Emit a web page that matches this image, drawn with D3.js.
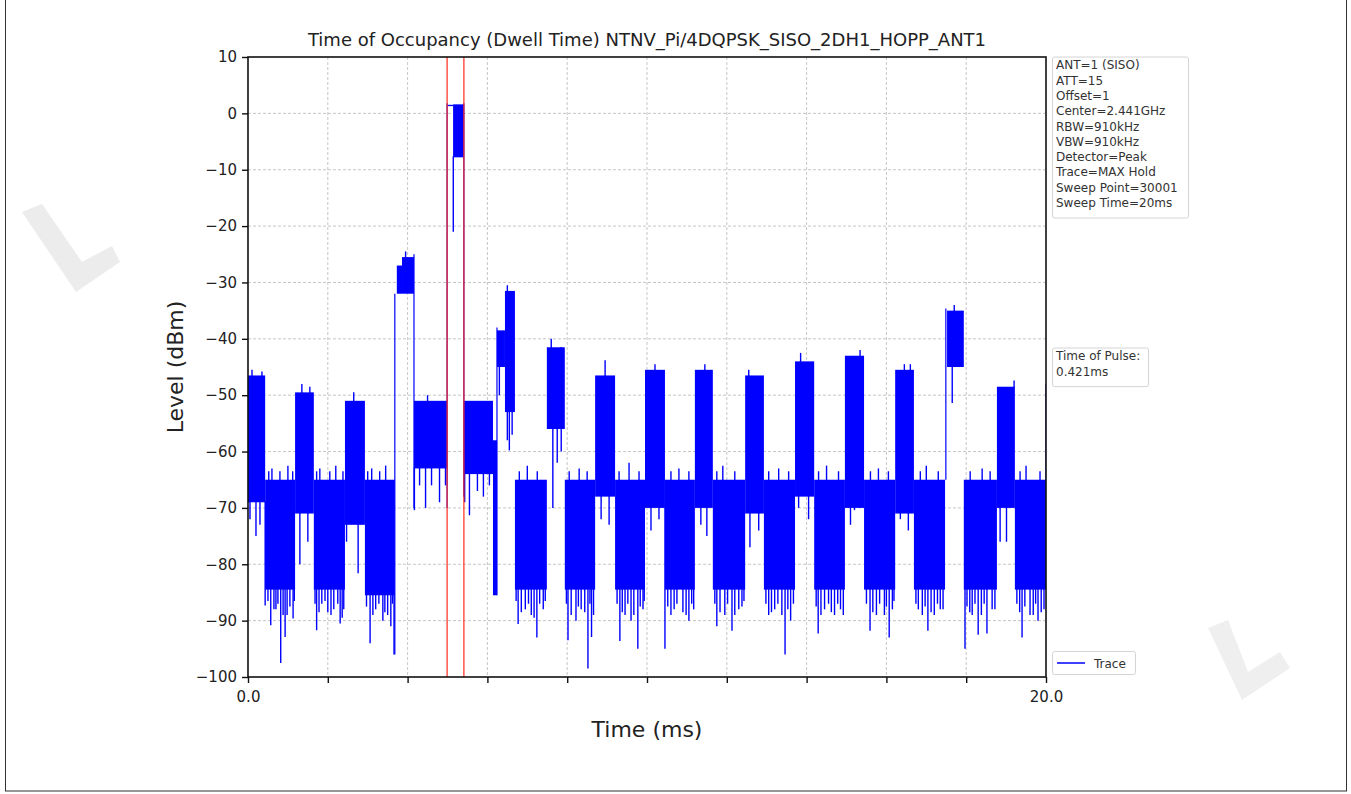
<!DOCTYPE html>
<html>
<head>
<meta charset="utf-8">
<script src="https://cdn.jsdelivr.net/npm/d3@7"></script>
<style>
  body { margin: 0; background: #fff; }
  text { font-family: "DejaVu Sans", sans-serif; }
</style>
</head>
<body>
<svg id="chart" width="1351" height="794"></svg>
<script>
// trace blocks (ms, dBm): dense max-hold noise envelope
const blockStart  = [0.00, 0.43, 1.18, 1.65, 2.43, 2.93, 3.73, 3.86, 4.16, 5.14, 5.41, 6.14, 6.24, 6.44, 6.69, 7.49, 7.94, 8.70, 9.20, 9.95, 10.45, 11.20, 11.65, 12.46, 12.93, 13.71, 14.19, 14.96, 15.44, 16.22, 16.69, 17.52, 17.94, 18.77, 19.22];
const blockEnd    = [0.43, 1.18, 1.65, 2.43, 2.93, 3.68, 3.86, 4.16, 4.99, 5.41, 6.14, 6.24, 6.44, 6.69, 7.49, 7.94, 8.70, 9.20, 9.95, 10.45, 11.20, 11.65, 12.46, 12.93, 13.71, 14.19, 14.96, 15.44, 16.22, 16.69, 17.47, 17.94, 18.77, 19.22, 20.00];
const blockTop    = [-46.5, -65, -49.5, -65, -51, -65, -27, -25.5, -51, 1.6, -51, -58, -38.5, -31.5, -65, -41.5, -65, -46.5, -65, -45.5, -65, -45.5, -65, -46.5, -65, -44, -65, -43, -65, -45.5, -65, -35, -65, -48.5, -65];
const blockBottom = [-69, -84.5, -71, -84.5, -73, -85.5, -32, -32, -63, -7.8, -64, -85.5, -45, -53, -84.5, -56, -84.5, -68, -84.5, -70, -84.5, -70, -84.5, -71, -84.5, -68, -84.5, -70, -84.5, -71, -84.5, -45, -84.5, -70, -84.5];

// downward spikes below the dense part (time ms, level dBm)
const spikeTime  = [0.05, 0.20, 0.30, 0.43, 0.50, 0.57, 0.65, 0.70, 0.75, 0.82, 0.88, 0.93, 0.98, 1.05, 1.13, 1.16, 1.30, 1.50,
                    1.68, 1.72, 1.78, 1.85, 1.93, 2.00, 2.08, 2.15, 2.25, 2.31, 2.36, 2.40, 2.47, 2.76,
                    2.97, 3.06, 3.13, 3.20, 3.28, 3.38, 3.43, 3.50, 3.58, 3.62, 3.66,
                    4.17, 4.30, 4.45, 4.60, 4.80, 4.95, 5.145, 5.43, 5.55, 5.75, 5.90, 6.05, 6.30, 6.50, 6.55, 6.62,
                    6.72, 6.77, 6.85, 6.95, 7.03, 7.10, 7.17, 7.24, 7.31, 7.40, 7.45, 7.64, 7.75, 7.85,
                    7.98, 8.02, 8.10, 8.22, 8.28, 8.35, 8.44, 8.52, 8.57, 8.61, 8.66, 8.85, 9.05,
                    9.25, 9.32, 9.38, 9.45, 9.52, 9.60, 9.67, 9.77, 9.83, 9.90, 9.93, 10.10, 10.30,
                    10.45, 10.52, 10.60, 10.68, 10.75, 10.90, 10.98, 11.05, 11.12, 11.17, 11.35, 11.50,
                    11.70, 11.75, 11.83, 11.95, 12.02, 12.13, 12.20, 12.30, 12.38, 12.43, 12.58, 12.80,
                    12.98, 13.05, 13.12, 13.20, 13.28, 13.38, 13.46, 13.53, 13.60, 13.67, 13.80, 14.05,
                    14.24, 14.29, 14.36, 14.45, 14.55, 14.62, 14.70, 14.78, 14.85, 14.92, 15.10, 15.20,
                    15.50, 15.59, 15.66, 15.75, 15.83, 15.95, 16.00, 16.07, 16.15, 16.19, 16.35, 16.55,
                    16.74, 16.80, 16.90, 16.97, 17.04, 17.12, 17.20, 17.28, 17.35, 17.42, 17.65,
                    17.97, 18.02, 18.09, 18.15, 18.22, 18.30, 18.38, 18.45, 18.52, 18.65, 18.72, 18.85, 19.01,
                    19.27, 19.34, 19.40, 19.47, 19.60, 19.68, 19.74, 19.80, 19.88, 19.95];
const spikeLevel = [-72, -75, -73, -87.3, -86.5, -90.8, -88, -88, -87, -97.5, -89, -92.9, -89, -87.5, -89.6, -86.5, -80, -76,
                    -87, -91.7, -88.5, -87, -86.5, -88.5, -89, -88, -87, -90.5, -89.5, -88, -76, -81.6,
                    -87.5, -94, -89, -88, -87, -90, -88.5, -89, -91, -87, -96,
                    -70.4, -66, -70, -66, -69, -66, -21, -69, -71.3, -67, -68, -66, -50, -58, -59.8, -57,
                    -86.5, -90.6, -88.5, -88, -87, -89, -89.5, -93, -87, -88, -86.5, -70, -62, -60,
                    -87, -93.5, -89, -90, -87.5, -88, -88.5, -98.5, -87, -92.9, -89, -72, -73,
                    -87, -93.6, -88.5, -89, -87, -90, -89, -95, -87.5, -88, -86.5, -74, -72,
                    -95, -87.5, -89, -88, -87, -88.5, -89, -90, -87, -88, -73, -75,
                    -87, -91, -88.5, -89, -87, -91.8, -89, -88, -87.5, -86.5, -77, -74,
                    -87, -89, -88.5, -88, -87, -89, -96, -88, -90, -87, -70, -72,
                    -87.5, -92.3, -89, -88, -87, -88.5, -89, -87, -88, -89, -73, -70.4,
                    -87, -91.8, -88.5, -89, -87, -89, -87.5, -93, -88, -86.5, -72, -74,
                    -87, -88, -89, -87.5, -91.8, -88.5, -89, -87, -88, -88, -51.4,
                    -95, -87.5, -88.5, -89, -87, -92.5, -89, -87, -92.3, -88, -88, -76, -76,
                    -87, -88.5, -93, -87.5, -89, -89, -87, -90, -88.5, -88];

// upward peaks above the dense part (time ms, level dBm)
const peakTime  = [0.10, 0.35, 0.52, 0.60, 0.80, 1.00, 1.12, 1.35, 1.55, 1.72, 1.80, 2.05, 2.20, 2.38, 2.65, 3.00, 3.10, 3.30, 3.45, 3.95, 4.50,
                   6.50, 6.80, 7.00, 7.25, 7.60, 7.85, 8.05, 8.30, 8.50, 8.95, 9.30, 9.55, 9.80, 10.20, 10.60, 10.80, 11.05, 11.45,
                   11.75, 11.90, 12.20, 12.55, 13.05, 13.30, 13.55, 13.85, 14.30, 14.50, 14.80, 15.34, 15.60, 15.80, 16.05, 16.45, 16.60,
                   16.85, 17.00, 17.30, 17.70, 18.10, 18.40, 18.60, 19.20, 19.35, 19.50, 19.85];
const peakLevel = [-45.5, -45.8, -63.5, -63, -63.5, -62.5, -63.5, -48, -48.5, -63.5, -63, -63.5, -62.5, -63.5, -49.5, -63.5, -63, -63.5, -62.5, -24.5, -50,
                   -30.5, -63.5, -62.5, -63.5, -40, -41.5, -63.5, -63, -63.5, -43.8, -63.5, -62, -63.5, -44.5, -63.5, -63, -63.5, -44.5,
                   -63.5, -62.5, -63.5, -45.5, -63.5, -63, -63.5, -42.5, -63.5, -62.5, -63.5, -42, -63.5, -63, -63.5, -44.5, -44.5,
                   -63.5, -62.5, -63.5, -34, -63.5, -63, -63.5, -47.4, -63.5, -62.5, -63.5];

// thin transitions of the trace between blocks (time ms, from, to dBm)
const linkTime = [3.68, 4.16, 4.99, 5.41, 6.24, 17.49, 20.00];
const linkFrom = [-96, -70, -70, -68, -85.5, -65, -65];
const linkTo   = [-32, -25, 1.8, 1.8, -38, -34.6, -48];

// flat top of the pulse before it starts toggling
const flatTime  = [4.99, 5.14];
const flatLevel = [1.4, 1.4];

// dwell time markers
const markerTime = [4.99, 5.411];

const xTicks = d3.range(0, 21, 2);
const yTicks = d3.range(-100, 11, 10);

const infoLines = ["ANT=1 (SISO)", "ATT=15", "Offset=1", "Center=2.441GHz", "RBW=910kHz", "VBW=910kHz",
  "Detector=Peak", "Trace=MAX Hold", "Sweep Point=30001", "Sweep Time=20ms"];
const pulseLines = ["Time of Pulse:", "0.421ms"];

var svg = d3.select("#chart");
var margin = { left: 248, right: 1046, top: 57, bottom: 677 };

svg.append("rect").attr("width", 1351).attr("height", 794).attr("fill", "#fff");

// faint scan watermark marks at the page edges
svg.append("path")
  .attr("d", "M22,212 L42,204 L82,262 L112,246 L120,262 L76,292 Z")
  .attr("fill", "#ececec");
svg.append("path")
  .attr("d", "M1208,628 L1228,620 L1248,672 L1280,652 L1290,668 L1242,700 Z")
  .attr("fill", "#efefef");

// page frame
svg.append("rect").attr("x", 5.5).attr("y", -2).attr("width", 1341).attr("height", 793)
  .attr("fill", "none").attr("stroke", "#333").attr("stroke-width", 1);

var x = d3.scaleLinear().domain([0, 20]).range([margin.left, margin.right]);
var y = d3.scaleLinear().domain([-100, 10]).range([margin.bottom, margin.top]);

var blue = "#0000ff";

// grid
var grid = svg.append("g");
grid.selectAll(".gx").data(xTicks.slice(1, -1)).enter().append("line")
  .attr("x1", d => x(d)).attr("x2", d => x(d))
  .attr("y1", margin.top).attr("y2", margin.bottom)
  .attr("stroke", "#b8b8b8").attr("stroke-width", 0.8).attr("stroke-dasharray", "3,2");
grid.selectAll(".gy").data(yTicks.slice(1, -1)).enter().append("line")
  .attr("x1", margin.left).attr("x2", margin.right)
  .attr("y1", d => y(d)).attr("y2", d => y(d))
  .attr("stroke", "#b8b8b8").attr("stroke-width", 0.8).attr("stroke-dasharray", "3,2");

// clip to the axes
svg.append("clipPath").attr("id", "clip").append("rect")
  .attr("x", margin.left).attr("y", margin.top)
  .attr("width", margin.right - margin.left).attr("height", margin.bottom - margin.top);

var plot = svg.append("g").attr("clip-path", "url(#clip)");

var blocks = blockStart.map((s, i) => ({ s: s, e: blockEnd[i], top: blockTop[i], bot: blockBottom[i] }));

function blockAt(t) {
  var b = blocks.find(b => t >= b.s && t <= b.e);
  return b || { top: -65, bot: -85 };
}

plot.selectAll(".blk").data(blocks).enter().append("rect")
  .attr("x", d => x(d.s))
  .attr("width", d => x(d.e) - x(d.s))
  .attr("y", d => y(d.top))
  .attr("height", d => y(d.bot) - y(d.top))
  .attr("fill", blue);

var spikes = spikeTime.map((t, i) => ({ t: t, v: spikeLevel[i] }));
plot.selectAll(".spk").data(spikes).enter().append("line")
  .attr("x1", d => x(d.t)).attr("x2", d => x(d.t))
  .attr("y1", d => y(blockAt(d.t).bot) - 1).attr("y2", d => y(d.v))
  .attr("stroke", blue).attr("stroke-width", 1.4);

var peaks = peakTime.map((t, i) => ({ t: t, v: peakLevel[i] }));
plot.selectAll(".pk").data(peaks).enter().append("line")
  .attr("x1", d => x(d.t)).attr("x2", d => x(d.t))
  .attr("y1", d => y(blockAt(d.t).top) + 1).attr("y2", d => y(d.v))
  .attr("stroke", blue).attr("stroke-width", 1.4);

var links = linkTime.map((t, i) => ({ t: t, a: linkFrom[i], b: linkTo[i] }));
plot.selectAll(".lnk").data(links).enter().append("line")
  .attr("x1", d => x(d.t)).attr("x2", d => x(d.t))
  .attr("y1", d => y(d.a)).attr("y2", d => y(d.b))
  .attr("stroke", blue).attr("stroke-width", 1.2);

plot.append("path")
  .datum(flatTime.map((t, i) => [t, flatLevel[i]]))
  .attr("d", d3.line().x(d => x(d[0])).y(d => y(d[1])))
  .attr("fill", "none").attr("stroke", blue).attr("stroke-width", 1.3);

// markers
svg.selectAll(".mk").data(markerTime).enter().append("line")
  .attr("x1", d => x(d)).attr("x2", d => x(d))
  .attr("y1", margin.top).attr("y2", margin.bottom)
  .attr("stroke", "#ff2a1a").attr("stroke-width", 1.2);

// spines
svg.append("rect")
  .attr("x", margin.left).attr("y", margin.top)
  .attr("width", margin.right - margin.left).attr("height", margin.bottom - margin.top)
  .attr("fill", "none").attr("stroke", "#111").attr("stroke-width", 1.6);

// axes
var xAxis = svg.append("g")
  .attr("transform", "translate(0," + margin.bottom + ")")
  .call(d3.axisBottom(x).tickValues(xTicks).tickSize(6).tickPadding(8)
    .tickFormat(d => (d === 0 || d === 20) ? d.toFixed(1) : ""));
var yAxis = svg.append("g")
  .attr("transform", "translate(" + margin.left + ",0)")
  .call(d3.axisLeft(y).tickValues(yTicks).tickSize(6).tickPadding(5));

[xAxis, yAxis].forEach(function (a) {
  a.select(".domain").remove();
  a.selectAll(".tick line").attr("stroke", "#111").attr("stroke-width", 1.4);
  a.selectAll(".tick text").attr("font-family", "DejaVu Sans").attr("font-size", 15).attr("fill", "#222");
});

// titles
svg.append("text")
  .attr("x", (margin.left + margin.right) / 2).attr("y", 46)
  .attr("text-anchor", "middle").attr("font-size", 18).attr("fill", "#222")
  .text("Time of Occupancy (Dwell Time) NTNV_Pi/4DQPSK_SISO_2DH1_HOPP_ANT1");

svg.append("text")
  .attr("x", (margin.left + margin.right) / 2).attr("y", 737)
  .attr("text-anchor", "middle").attr("font-size", 22).attr("fill", "#222")
  .text("Time (ms)");

svg.append("text")
  .attr("transform", "translate(183," + (margin.top + margin.bottom) / 2 + ") rotate(-90)")
  .attr("text-anchor", "middle").attr("font-size", 22).attr("fill", "#222")
  .text("Level (dBm)");

// info boxes on the right
function infoBox(lines, top, w) {
  var g = svg.append("g");
  g.append("rect")
    .attr("x", 1052.5).attr("y", top)
    .attr("width", w).attr("height", lines.length * 15.3 + 8)
    .attr("fill", "#fff").attr("stroke", "#d4d4d4").attr("rx", 2);
  g.selectAll("text").data(lines).enter().append("text")
    .attr("x", 1056).attr("y", (d, i) => top + 12.3 + i * 15.3)
    .attr("font-size", 12).attr("fill", "#333")
    .text(d => d);
}
infoBox(infoLines, 57, 136);
infoBox(pulseLines, 348, 96);

// legend
var leg = svg.append("g");
leg.append("rect").attr("x", 1052.5).attr("y", 651.5).attr("width", 83).attr("height", 23)
  .attr("fill", "#fff").attr("stroke", "#d4d4d4").attr("rx", 2);
leg.append("line").attr("x1", 1057).attr("x2", 1085).attr("y1", 663).attr("y2", 663)
  .attr("stroke", blue).attr("stroke-width", 1.5);
leg.append("text").attr("x", 1094).attr("y", 667.5).attr("font-size", 12).attr("fill", "#333").text("Trace");
</script>
</body>
</html>
